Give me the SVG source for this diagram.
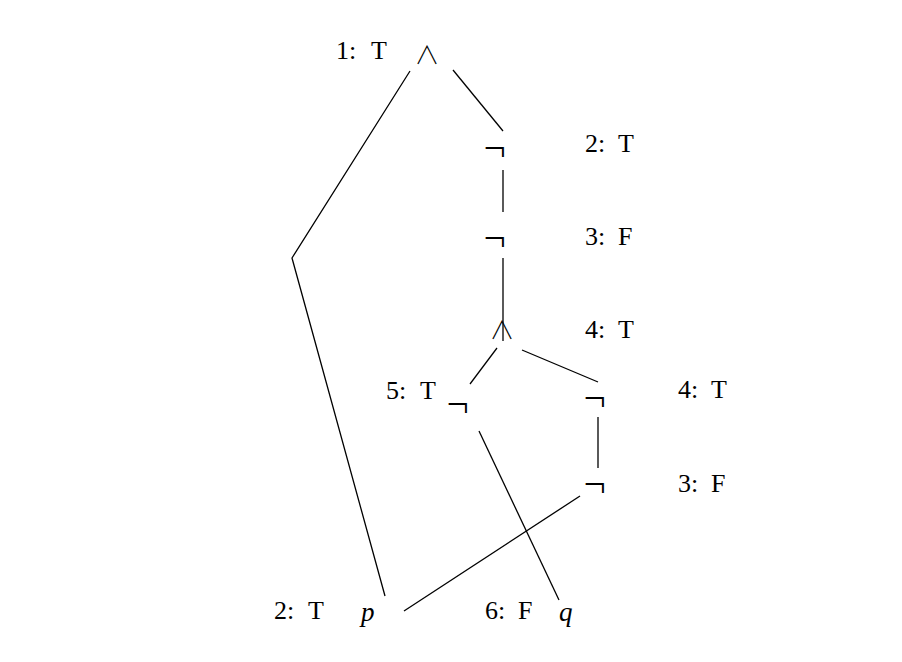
<svg xmlns="http://www.w3.org/2000/svg" width="902" height="662" viewBox="0 0 902 662">
<style>
text{font-family:"Liberation Serif","DejaVu Serif",serif;font-size:26px;fill:#000}
.and{text-anchor:middle;font-family:"Noto Sans CJK JP",sans-serif;font-size:25px;font-weight:300}
.not{text-anchor:middle;font-family:"Noto Sans",sans-serif;font-size:40px;font-weight:300}
.it{font-style:italic;font-size:27px}
line,polyline{stroke:#000;stroke-width:1.3;fill:none}
</style>
<rect width="902" height="662" fill="#fff"/>
<g id="connectors">
<polyline points="410,71 292,258 385,596"/>
<line x1="453" y1="70" x2="503" y2="131"/>
<line x1="503" y1="170" x2="503" y2="212"/>
<line x1="503" y1="258" x2="503" y2="341"/>
<line x1="497" y1="348" x2="470" y2="384"/>
<line x1="522" y1="350" x2="598" y2="382"/>
<line x1="598" y1="417" x2="598" y2="468"/>
<line x1="580" y1="496" x2="404" y2="611"/>
<line x1="479" y1="431" x2="559" y2="600"/>
</g>
<g id="n1"><text class="and" x="427" y="64">∧</text><text x="336" y="59">1:<tspan x="371">T</tspan></text></g>
<g id="n2"><text class="not" x="495" y="162">¬</text><text x="585" y="152">2:<tspan x="618">T</tspan></text></g>
<g id="n3"><text class="not" x="495" y="252">¬</text><text x="585" y="245">3:<tspan x="618">F</tspan></text></g>
<g id="n4"><text class="and" x="502" y="339">∧</text><text x="585" y="338">4:<tspan x="618">T</tspan></text></g>
<g id="n5"><text class="not" x="458" y="418">¬</text><text x="386" y="399">5:<tspan x="420">T</tspan></text></g>
<g id="n6"><text class="not" x="595" y="412">¬</text><text x="678" y="398">4:<tspan x="711">T</tspan></text></g>
<g id="n7"><text class="not" x="595" y="498">¬</text><text x="678" y="492">3:<tspan x="711">F</tspan></text></g>
<g id="n8"><text class="it" x="361" y="621">p</text><text x="274" y="619">2:<tspan x="308">T</tspan></text></g>
<g id="n9"><text class="it" x="559" y="621">q</text><text x="485" y="619">6:<tspan x="518">F</tspan></text></g>
</svg>
